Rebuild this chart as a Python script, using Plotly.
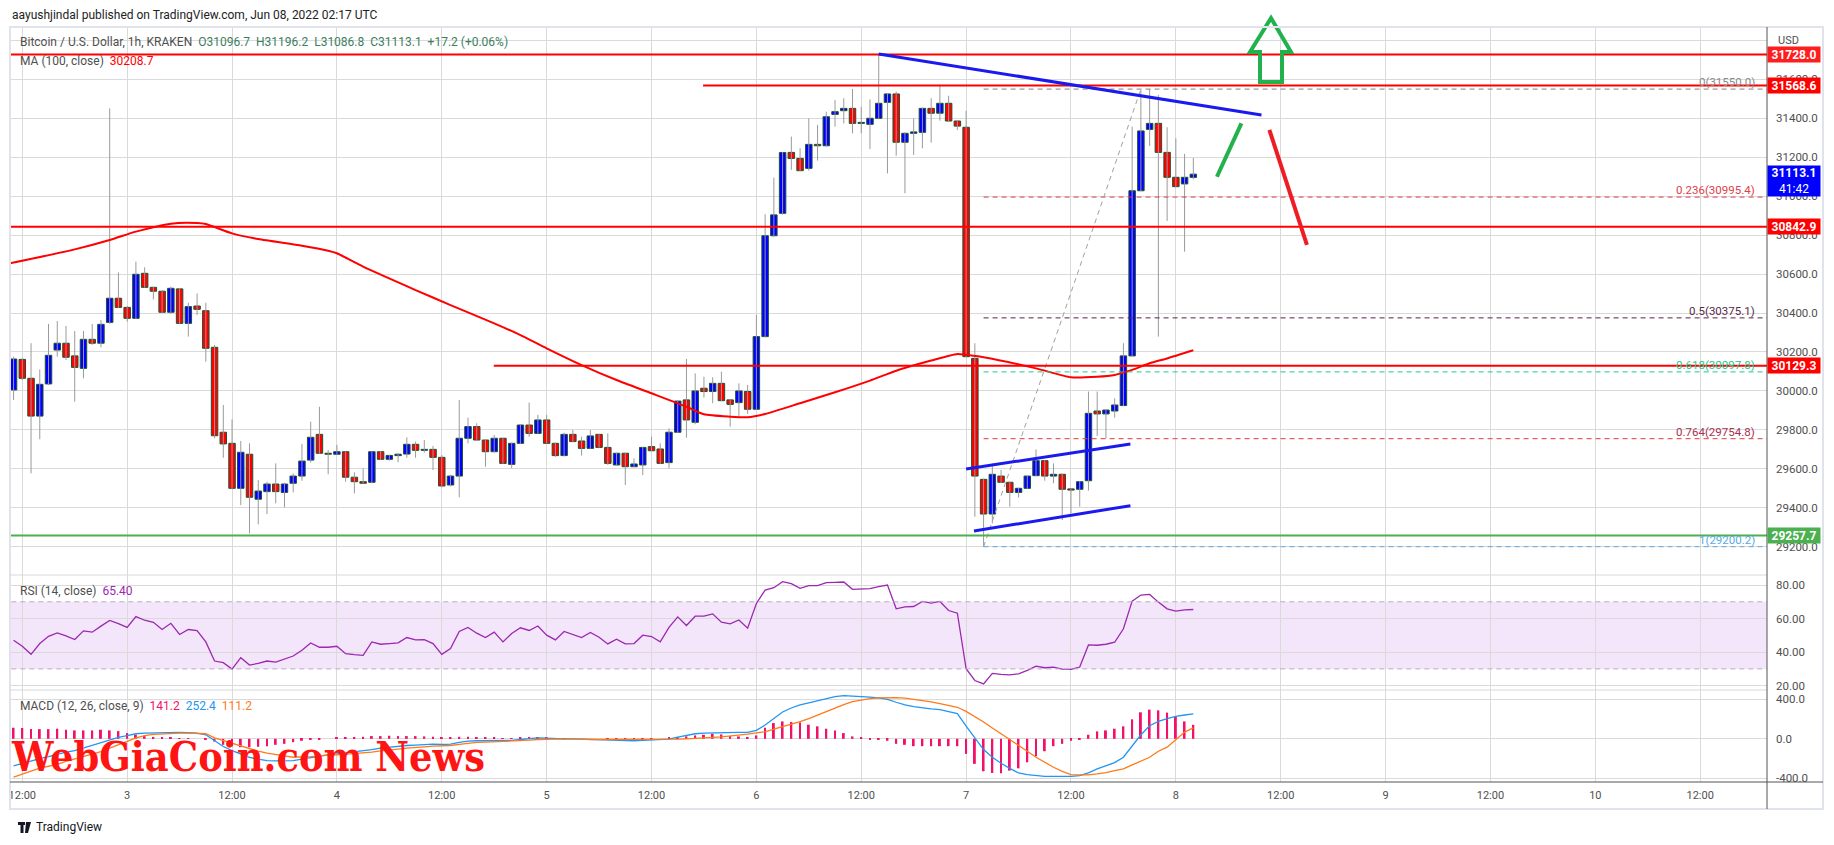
import plotly.graph_objects as go

# ---------------- data ----------------
# candle time in hours after 2022-06-02 12:00 UTC (first = Jun 2 11:00, last = Jun 8 02:00)
hours = list(range(-1, 135))

opens = [30005, 30162, 30065, 29871, 30036, 30210, 30245, 30180, 30116, 30265,
         30245, 30352, 30476, 30429, 30373, 30604, 30532, 30512, 30404, 30524,
         30347, 30436, 30412, 30224, 29788, 29731, 29500, 29675, 29444, 29483,
         29522, 29479, 29526, 29563, 29645, 29777, 29680, 29675, 29688, 29557,
         29534, 29531, 29688, 29649, 29668, 29676, 29726, 29695, 29700, 29659,
         29517, 29563, 29757, 29817, 29748, 29688, 29757, 29623, 29731, 29825,
         29782, 29851, 29731, 29668, 29777, 29743, 29705, 29777, 29710, 29620,
         29680, 29611, 29620, 29714, 29702, 29632, 29788, 29954, 29839, 30014,
         29997, 30039, 29954, 29940, 29997, 29906, 30279, 30797, 30912, 31225,
         31194, 31143, 31266, 31259, 31420, 31439, 31451, 31374, 31369, 31400,
         31482, 31525, 31277, 31323, 31328, 31451, 31426, 31477, 31386, 31354,
         30167, 29546, 29368, 29563, 29531, 29479, 29500, 29565, 29642, 29563,
         29572, 29497, 29495, 29539, 29897, 29882, 29897, 29925, 30180, 31028,
         31343, 31374, 31225, 31097, 31063, 31096.7]
highs = [30176, 30167, 30245, 30111, 30344, 30359, 30334, 30308, 30308, 30344,
         30364, 31451, 30609, 30435, 30664, 30635, 30535, 30518, 30536, 30527,
         30453, 30501, 30453, 30236, 29928, 29854, 29743, 29731, 29543, 29534,
         29628, 29529, 29577, 29728, 29842, 29919, 29697, 29723, 29690, 29582,
         29603, 29690, 29692, 29672, 29680, 29762, 29740, 29748, 29717, 29671,
         29570, 29954, 29863, 29834, 29750, 29774, 29760, 29735, 29830, 29940,
         29877, 29877, 29735, 29786, 29800, 29765, 29800, 29780, 29782, 29683,
         29683, 29654, 29713, 29765, 29731, 29808, 29952, 30164, 30090, 30073,
         30070, 30099, 29957, 30039, 30031, 30390, 30907, 31095, 31228, 31306,
         31246, 31400, 31366, 31434, 31494, 31503, 31551, 31460, 31497, 31728,
         31528, 31537, 31328, 31400, 31455, 31503, 31568, 31516, 31389, 31439,
         30245, 29550, 29628, 29594, 29534, 29503, 29566, 29700, 29645, 29628,
         29575, 29500, 29537, 29997, 29997, 29905, 29962, 30245, 31357, 31545,
         31550, 31520, 31354, 31297, 31217, 31196.2]
lows = [29954, 30056, 29577, 29752, 30030, 30176, 30159, 29945, 30065, 30236,
        30224, 30345, 30425, 30356, 30370, 30530, 30470, 30400, 30395, 30345,
        30279, 30390, 30150, 29757, 29657, 29495, 29414, 29269, 29315, 29368,
        29423, 29402, 29479, 29539, 29632, 29678, 29572, 29672, 29534, 29474,
        29524, 29526, 29645, 29642, 29634, 29657, 29657, 29683, 29594, 29505,
        29510, 29454, 29731, 29745, 29611, 29685, 29625, 29603, 29728, 29765,
        29780, 29728, 29662, 29665, 29737, 29668, 29702, 29708, 29620, 29617,
        29517, 29608, 29568, 29690, 29625, 29603, 29785, 29760, 29829, 29966,
        29937, 29947, 29817, 29863, 29882, 29903, 30275, 30790, 30905, 31135,
        31128, 31131, 31183, 31255, 31357, 31374, 31323, 31323, 31242, 31395,
        31117, 31208, 31015, 31212, 31246, 31275, 31388, 31383, 31340, 30173,
        29354, 29200.2, 29320, 29528, 29406, 29452, 29497, 29562, 29539, 29526,
        29337, 29372, 29406, 29488, 29769, 29757, 29863, 29922, 30176, 31025,
        31258, 30279, 30873, 31046, 30715, 31086.8]
closes = [30164, 30065, 29871, 30034, 30183, 30245, 30173, 30121, 30265, 30245,
          30342, 30476, 30429, 30373, 30599, 30532, 30512, 30404, 30527, 30347,
          30433, 30419, 30219, 29770, 29728, 29500, 29685, 29454, 29486, 29522,
          29483, 29522, 29563, 29640, 29762, 29680, 29675, 29688, 29557, 29534,
          29526, 29688, 29649, 29669, 29675, 29726, 29695, 29700, 29659, 29512,
          29563, 29757, 29817, 29748, 29688, 29757, 29628, 29731, 29825, 29782,
          29851, 29731, 29668, 29777, 29740, 29705, 29769, 29710, 29628, 29680,
          29611, 29625, 29710, 29693, 29628, 29788, 29948, 29851, 30000, 29997,
          30039, 29950, 29931, 30000, 29906, 30279, 30797, 30904, 31224, 31194,
          31131, 31266, 31259, 31408, 31434, 31451, 31374, 31379, 31400, 31477,
          31525, 31277, 31323, 31330, 31451, 31426, 31477, 31386, 31360, 30176,
          29563, 29368, 29572, 29531, 29479, 29500, 29563, 29642, 29563, 29572,
          29495, 29491, 29534, 29885, 29882, 29902, 29928, 30180, 31028, 31335,
          31374, 31225, 31097, 31049, 31097, 31113.1]

# MA(100) read at sample hours
ma_hours = [-2, 6, 10, 13, 17, 20, 21, 24, 27, 32, 35, 36, 39, 45, 49, 54, 57, 60, 64, 68,
            72, 76, 78, 81, 83, 85, 89, 93, 97, 100, 104, 107, 108, 110, 116, 120, 123, 125,
            127, 129, 131, 134]
ma_vals = [30650, 30727, 30775, 30818, 30859, 30862, 30857, 30809, 30780, 30746,
           30720, 30707, 30638, 30518, 30441, 30347, 30287, 30219, 30133, 30056,
           29988, 29919, 29880, 29868, 29865, 29882, 29937, 29993, 30053, 30104,
           30156, 30190, 30185, 30173, 30116, 30070, 30073, 30082, 30108, 30142,
           30167, 30208.7]

rsi = [47.1, 43.5, 38.7, 45.1, 49.4, 51.4, 49.7, 47.5, 52.7, 51.9,
       55.5, 58.9, 57.0, 54.7, 61.2, 59.0, 57.8, 53.5, 57.2, 50.5,
       53.5, 52.9, 46.1, 34.7, 33.7, 29.9, 36.7, 32.3, 33.3, 34.7,
       34.1, 36.1, 37.7, 41.1, 45.5, 42.9, 42.9, 43.5, 39.1, 38.5,
       38.1, 46.1, 44.7, 45.1, 45.5, 48.7, 47.3, 47.5, 45.1, 38.7,
       42.1, 52.3, 54.7, 51.3, 48.7, 51.9, 46.1, 51.1, 54.5, 52.9,
       55.6, 50.1, 47.3, 52.3, 50.7, 48.7, 51.7, 48.9, 44.9, 47.7,
       44.9, 45.1, 50.1, 49.3, 46.1, 54.7, 61.0, 55.9, 61.4, 61.4,
       62.8, 57.8, 56.9, 59.2, 54.3, 69.0, 77.0, 78.4, 82.0, 80.8,
       78.0, 79.6, 79.6, 81.4, 81.6, 81.8, 77.4, 77.6, 77.8, 79.0,
       80.0, 65.8, 67.0, 67.2, 70.2, 69.2, 70.2, 64.8, 63.2, 30.1,
       23.1, 21.1, 27.3, 26.7, 26.5, 27.1, 29.1, 31.7, 30.7, 31.1,
       29.9, 29.7, 31.1, 44.3, 44.1, 44.7, 45.9, 53.9, 70.4, 74.0,
       74.4, 69.8, 65.8, 64.5, 65.2, 65.40]

macd = [-275, -248, -224, -200, -180, -156, -136, -119, -92, -64,
        -37, -10, 14, 31, 51, 58, 61, 64, 64, 64,
        61, 58, 41, -17, -78, -119, -153, -187, -207, -221,
        -224, -224, -221, -207, -190, -176, -163, -153, -143, -132,
        -126, -109, -95, -85, -78, -68, -64, -58, -54, -58,
        -54, -37, -24, -20, -20, -17, -20, -17, -7, 0,
        10, 7, 0, 0, 0, -3, -7, -7, -7, -14,
        -17, -20, -17, -14, -10, -3, 17, 37, 51, 58,
        61, 61, 64, 64, 64, 85, 139, 204, 271, 312,
        343, 363, 387, 411, 428, 438, 434, 428, 421, 414,
        400, 370, 343, 326, 312, 302, 295, 278, 254, 129,
        7, -109, -187, -248, -299, -346, -363, -373, -380, -380,
        -383, -380, -373, -346, -305, -275, -241, -187, -68, 41,
        132, 176, 204, 227, 241, 252.4]
signal = [-387, -357, -322, -298, -278, -258, -228, -204, -177, -149,
          -129, -95, -64, -27, 10, 31, 44, 50, 54, 57,
          58, 58, 51, 10, -17, -44, -68, -102, -126, -146,
          -163, -173, -187, -187, -180, -173, -163, -163, -157, -149,
          -146, -136, -122, -116, -105, -95, -91, -82, -74, -72,
          -68, -57, -44, -37, -34, -31, -27, -24, -17, -14,
          -7, -3, -3, -3, 0, -3, -7, -7, -3, -7,
          -7, -10, -10, -7, -7, -7, -3, 0, 3, 10,
          14, 20, 27, 37, 48, 61, 71, 98, 122, 149,
          173, 204, 241, 278, 316, 346, 377, 394, 407, 414,
          417, 417, 411, 400, 390, 373, 356, 339, 319, 278,
          227, 170, 109, 51, -7, -61, -126, -187, -238, -288,
          -329, -363, -366, -366, -356, -343, -322, -305, -265, -227,
          -187, -126, -85, -10, 68, 111.2]
hist = [112, 109, 98, 98, 98, 102, 92, 85, 85, 85,
        92, 85, 78, 58, 41, 27, 17, 14, 10, 7,
        3, 0, -10, -27, -61, -75, -85, -85, -81, -75,
        -61, -51, -34, -20, -10, -3, 0, 10, 14, 17,
        20, 27, 27, 31, 27, 27, 27, 24, 20, 14,
        14, 20, 20, 17, 14, 14, 7, 7, 10, 14,
        17, 10, 3, 3, 0, 0, 0, 0, -3, -7,
        -7, -7, -3, -3, 0, 10, 17, 24, 34, 41,
        51, 44, 27, 24, 17, 34, 112, 159, 176, 170,
        166, 143, 126, 102, 85, 58, 24, 10, -7, -10,
        -20, -51, -61, -75, -75, -75, -75, -75, -75, -153,
        -254, -329, -346, -349, -322, -299, -238, -176, -126, -75,
        -51, -20, -7, 41, 75, 85, 102, 126, 197, 268,
        295, 288, 265, 227, 176, 141.2]

# horizontal levels drawn on the chart
red_levels = [31728.0, 31568.6, 30842.9, 30129.3]
red_level_start = [-5, 77.9, -5, 53.95]
green_level = 29257.7
fib_ratios = ["0", "0.236", "0.5", "0.618", "0.764", "1"]
fib_prices = [31550.0, 30995.4, 30375.1, 30097.8, 29754.8, 29200.2]
fib_colors = ["#808080", "#e0404a", "#5a1f45", "#20c98c", "#e53935", "#5aa9e6"]
fib_text_colors = ["#8a8a8a", "#e0404a", "#5a2a4a", "#20c98c", "#a8304f", "#5aa9e6"]
fib_start = 110

x_ticks = [0, 12, 24, 36, 48, 60, 72, 84, 96, 108, 120, 132, 144, 156, 168, 180, 192]
x_labels = ["12:00", "3", "12:00", "4", "12:00", "5", "12:00", "6", "12:00",
            "7", "12:00", "8", "12:00", "9", "12:00", "10", "12:00"]
price_ticks = [29200, 29400, 29600, 29800, 30000, 30200, 30400, 30600, 30800,
               31000, 31200, 31400, 31600, 31800]
rsi_ticks = [20, 40, 60, 80]
macd_ticks = [-400, 0, 400]

# ---------------- geometry ----------------
L, R, T, B = 10, 1767, 27, 782


def PX(x):
    return (x - L) / (R - L)


def PY(y):
    return (B - y) / (B - T)


XMIN, XMAX = -1.4075, 199.645
GRID = "#dadada"
TXT = "#4f4f4f"
FONT = "Roboto"

fig = go.Figure()

# wicks
wx, wy = [], []
for h, hi, lo in zip(hours, highs, lows):
    wx += [h, h, None]
    wy += [lo, hi, None]
fig.add_trace(go.Scatter(x=wx, y=wy, mode="lines", line=dict(color="#9a9a9a", width=1),
                         xaxis="x", yaxis="y", hoverinfo="skip"))
# bodies
base = [min(o, c) for o, c in zip(opens, closes)]
size = [max(abs(c - o), 2.5) for o, c in zip(opens, closes)]
cols = ["#0000ff" if c >= o else "#ff0000" for o, c in zip(opens, closes)]
fig.add_trace(go.Bar(x=hours, y=size, base=base, width=0.74,
                     marker=dict(color=cols, line=dict(color="#1f5130", width=1)),
                     xaxis="x", yaxis="y", hoverinfo="skip"))
# MA 100
fig.add_trace(go.Scatter(x=ma_hours, y=ma_vals, mode="lines",
                         line=dict(color="#ff0000", width=2, shape="spline", smoothing=0.6),
                         xaxis="x", yaxis="y", hoverinfo="skip"))
# RSI
fig.add_trace(go.Scatter(x=hours, y=rsi, mode="lines", line=dict(color="#9c27b0", width=1.3),
                         xaxis="x", yaxis="y2", hoverinfo="skip"))
# MACD
fig.add_trace(go.Bar(x=hours, y=hist, width=0.22, marker=dict(color="#f2106b", line=dict(width=0)),
                     xaxis="x", yaxis="y3", hoverinfo="skip"))
fig.add_trace(go.Scatter(x=hours, y=macd, mode="lines", line=dict(color="#2196f3", width=1.3),
                         xaxis="x", yaxis="y3", hoverinfo="skip"))
fig.add_trace(go.Scatter(x=hours, y=signal, mode="lines", line=dict(color="#ff7a1a", width=1.3),
                         xaxis="x", yaxis="y3", hoverinfo="skip"))

shapes = []
# RSI band
shapes.append(dict(type="rect", xref="x", yref="y2", x0=XMIN - 5, x1=XMAX + 5, y0=30, y1=70,
                   fillcolor="#f3e6fb", line=dict(width=0), layer="below"))
for lv in (30, 70):
    shapes.append(dict(type="line", xref="x", yref="y2", x0=XMIN - 5, x1=XMAX + 5, y0=lv, y1=lv,
                       line=dict(color="#b9acc3", width=1, dash="5px,4px")))
# fib
for p, c in zip(fib_prices, fib_colors):
    shapes.append(dict(type="line", xref="x", yref="y", x0=fib_start, x1=XMAX + 5, y0=p, y1=p,
                       line=dict(color=c, width=1, dash="5px,4px")))
shapes.append(dict(type="line", xref="x", yref="y", x0=fib_start, x1=128, y0=fib_prices[-1],
                   y1=fib_prices[0], line=dict(color="#a0a0a0", width=1, dash="5px,4px")))
# horizontal support / resistance
for p, s in zip(red_levels, red_level_start):
    shapes.append(dict(type="line", xref="x", yref="y", x0=s, x1=XMAX + 5, y0=p, y1=p,
                       line=dict(color="#ff0000", width=2)))
shapes.append(dict(type="line", xref="x", yref="y", x0=-5, x1=XMAX + 5, y0=green_level, y1=green_level,
                   line=dict(color="#4caf50", width=2)))
# blue trend lines
for (x0, y0, x1, y1) in [(98, 31730, 141.8, 31417), (108, 29599, 126.8, 29728), (108.9, 29281, 126.8, 29411)]:
    shapes.append(dict(type="line", xref="x", yref="y", x0=x0, y0=y0, x1=x1, y1=y1,
                       line=dict(color="#1a1aee", width=3)))
# green / red projection strokes
shapes.append(dict(type="line", xref="x", yref="y", x0=136.7, y0=31100, x1=139.5, y1=31374,
                   line=dict(color="#22b14c", width=4)))
shapes.append(dict(type="line", xref="x", yref="y", x0=142.7, y0=31340, x1=147.0, y1=30750,
                   line=dict(color="#ee1c24", width=4)))
# up arrow
arrow = [(1271, 18), (1291, 52), (1282, 52), (1282, 82), (1260, 82), (1260, 52), (1250, 52)]
shapes.append(dict(type="path", xref="paper", yref="paper",
                   path="M " + " L ".join(f"{PX(x):.5f},{PY(y):.5f}" for x, y in arrow) + " Z",
                   line=dict(color="#22b14c", width=4), fillcolor="rgba(0,0,0,0)"))
# frame & separators
shapes.append(dict(type="rect", xref="paper", yref="paper", x0=PX(10), x1=PX(1823), y0=PY(27), y1=PY(809),
                   line=dict(color="#e0e3eb", width=2)))
for yy in (575, 690):
    shapes.append(dict(type="line", xref="paper", yref="paper", x0=PX(10), x1=PX(1767), y0=PY(yy), y1=PY(yy),
                       line=dict(color="#d6d8e0", width=1)))
shapes.append(dict(type="line", xref="paper", yref="paper", x0=PX(10), x1=PX(1823), y0=PY(782), y1=PY(782),
                   line=dict(color="#555555", width=1)))
shapes.append(dict(type="line", xref="paper", yref="paper", x0=PX(1767), x1=PX(1767), y0=PY(27), y1=PY(809),
                   line=dict(color="#555555", width=1)))
# TradingView logo mark
shapes.append(dict(type="rect", xref="paper", yref="paper", x0=PX(18), x1=PX(25), y0=PY(822), y1=PY(825),
                   fillcolor="#131722", line=dict(width=0)))
shapes.append(dict(type="rect", xref="paper", yref="paper", x0=PX(20.5), x1=PX(23.5), y0=PY(825), y1=PY(833),
                   fillcolor="#131722", line=dict(width=0)))
shapes.append(dict(type="path", xref="paper", yref="paper",
                   path=f"M {PX(26):.5f},{PY(822):.5f} L {PX(31):.5f},{PY(822):.5f} L {PX(28):.5f},{PY(833):.5f} "
                        f"L {PX(25):.5f},{PY(833):.5f} Z",
                   fillcolor="#131722", line=dict(width=0)))

ann = []


def text(x, y, s, size=12, color=TXT, anchor="left", yanchor="middle", family=FONT, **kw):
    ann.append(dict(xref="paper", yref="paper", x=PX(x), y=PY(y), text=s, showarrow=False,
                    xanchor=anchor, yanchor=yanchor, font=dict(family=family, size=size, color=color), **kw))


NB = "\u00a0"
text(10, 15, "aayushjindal published on TradingView.com, Jun 08, 2022 02:17 UTC", size=12, color="#222222")
hdr_vals = f"O{opens[-1]}{NB*2}H{highs[-1]}{NB*2}L{lows[-1]}{NB*2}C{closes[-1]}{NB*2}+17.2{NB}(+0.06%)"
text(18, 42, f"Bitcoin / U.S. Dollar, 1h, KRAKEN{NB*2}<span style='color:#3c7e5e'>{hdr_vals}</span>", size=12)
text(18, 61, f"MA (100, close){NB*2}<span style='color:#ff0000'>{ma_vals[-1]}</span>", size=12)
text(18, 591, f"RSI (14, close){NB*2}<span style='color:#9c27b0'>{rsi[-1]:.2f}</span>", size=12)
text(18, 706, f"MACD (12, 26, close, 9){NB*2}<span style='color:#f2106b'>{hist[-1]}</span>{NB*2}"
              f"<span style='color:#2196f3'>{macd[-1]}</span>{NB*2}<span style='color:#ff7a1a'>{signal[-1]}</span>",
     size=12)
text(1776, 40, "USD", size=11)
text(9, 757, "<b>WebGiaCoin.com News</b>", size=41, color="#ff1414", family="DejaVu Serif Condensed")
text(34, 827, "TradingView", size=12, color="#131722")

# fib labels
for r, p, c in zip(fib_ratios, fib_prices, fib_text_colors):
    ann.append(dict(xref="paper", yref="y", x=PX(1757), y=p, text=f"{r}({p:.1f})", showarrow=False,
                    xanchor="right", yanchor="bottom", yshift=-2, font=dict(family=FONT, size=11.5, color=c)))

# price axis boxes
boxes = [(31728.0, "#ff1e1e"), (31568.6, "#ff0000"), (30842.9, "#ff0000"), (30129.3, "#ff0000"),
         (29257.7, "#4caf50")]
for p, c in boxes:
    ann.append(dict(xref="paper", yref="y", x=PX(1767), y=p, text=f"<b>{p:.1f}</b>", showarrow=False,
                    xanchor="left", yanchor="middle", bgcolor=c, width=50, height=13, borderpad=1,
                    font=dict(family=FONT, size=12, color="white")))
ann.append(dict(xref="paper", yref="y", x=PX(1767), y=closes[-1], yshift=-7, text=f"<b>{closes[-1]}</b><br>41:42",
                showarrow=False, xanchor="left", yanchor="middle", bgcolor="#0000ff", width=50, height=28,
                borderpad=1, font=dict(family=FONT, size=12, color="white")))

fig.update_layout(
    width=1834, height=845,
    margin=dict(l=L, r=1834 - R, t=T, b=845 - B, pad=0),
    paper_bgcolor="white", plot_bgcolor="white",
    showlegend=False, barmode="overlay", hovermode=False,
    shapes=shapes, annotations=ann,
    xaxis=dict(domain=[0, 1], anchor="y3", range=[XMIN, XMAX], tickvals=x_ticks, ticktext=x_labels,
               showgrid=True, gridcolor=GRID, gridwidth=1, zeroline=False, showline=False, ticks="",
               ticklabelstandoff=5, tickfont=dict(family=FONT, size=11, color=TXT)),
    yaxis=dict(domain=[PY(575), 1], anchor="x", side="right", range=[29054.9, 31868.8],
               tickvals=price_ticks, ticktext=[f"{v:.1f}" if v != 31800 else "" for v in price_ticks],
               showgrid=True, gridcolor=GRID, zeroline=False, ticks="", ticklabelstandoff=8,
               tickfont=dict(family=FONT, size=11.5, color=TXT)),
    yaxis2=dict(domain=[PY(690), PY(575)], anchor="x", side="right", range=[17.44, 85.96],
                tickvals=rsi_ticks, ticktext=[f"{v:.2f}" for v in rsi_ticks],
                showgrid=True, gridcolor=GRID, zeroline=False, ticks="", ticklabelstandoff=8,
                tickfont=dict(family=FONT, size=11.5, color=TXT)),
    yaxis3=dict(domain=[0, PY(690)], anchor="x", side="right", range=[-437.5, 494],
                tickvals=macd_ticks, ticktext=[f"{v:.1f}" for v in macd_ticks],
                showgrid=True, gridcolor=GRID, zeroline=False, ticks="", ticklabelstandoff=8,
                tickfont=dict(family=FONT, size=11.5, color=TXT)),
)

fig.write_html("out.html", config={"displayModeBar": False})
